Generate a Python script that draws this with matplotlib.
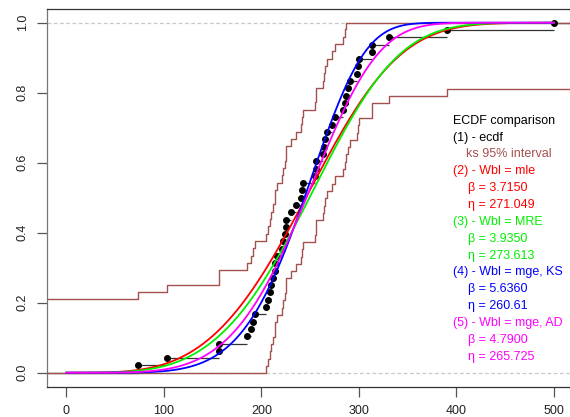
import numpy as np
import matplotlib
matplotlib.use("Agg")
import matplotlib.pyplot as plt

plt.rcParams['font.family'] = ['Liberation Sans', 'DejaVu Sans']

# sorted sample
obs = [73.5, 103.6, 156.6, 156.8, 184.7, 189.8, 191.5, 193.7, 205.2, 206.5,
       208.6, 210.3, 211.7, 213.7, 214.2, 215.5, 221.6, 222.2, 224.7, 225.5,
       225.7, 230.7, 235.0, 241.0, 242.0, 242.8, 254.8, 255.5, 256.5, 263.3,
       264.3, 265.0, 266.8, 272.9, 275.3, 283.8, 285.5, 286.6, 289.0, 290.7,
       297.6, 299.2, 300.2, 313.0, 313.5, 331.0, 389.9, 500.0]
ks_d = 0.189  # half width of the ks band

# weibull fits: label, beta, eta, colour
fit_names = ['mle', 'MRE', 'mge, KS', 'mge, AD']
betas = [3.7150, 3.9350, 5.6360, 4.7900]
etas = [271.049, 273.613, 260.61, 265.725]
beta_txt = ['3.7150', '3.9350', '5.6360', '4.7900']
eta_txt = ['271.049', '273.613', '260.61', '265.725']
cols = ['#ff0000', '#00f000', '#0000ff', '#ff00ff']

band_col = '#a3514f'

x = np.array(obs)
n = len(x)
F = np.arange(1, n + 1) / n

fig = plt.figure(figsize=(5.7, 4.17), dpi=100)
ax = fig.add_axes([47 / 570, 30.3 / 417, 526.3 / 570, 378 / 417])
ax.set_xlim(-20, 520)
ax.set_ylim(-0.04, 1.04)

# grey dashed lines at 0 and 1
for h in (0, 1):
    ax.axhline(h, color='#c8c8c8', lw=0.9, dashes=(3, 2), zorder=1)

# ecdf: horizontal segments + points
xl, xr = -20, 520
ax.hlines(0, xl, x[0], color='#222222', lw=0.9, zorder=2)
ax.hlines(F[:-1], x[:-1], x[1:], color='#333333', lw=0.9, zorder=2)
ax.hlines(1, x[-1], xr, color='#222222', lw=0.9, zorder=2)
ax.plot(x, F, 'o', color='black', ms=4.0, zorder=4)

# ks band (step function)
G = np.minimum(np.arange(1, n + 2), n) / n
up = np.minimum(G + ks_d, 1)
lo = np.maximum(G - ks_d, 0)
bx = np.concatenate([[xl], x, [xr]])
ax.step(bx, np.append(up, up[-1]), where='post', color=band_col, lw=1.0, zorder=3)
ax.step(bx, np.append(lo, lo[-1]), where='post', color=band_col, lw=1.0, zorder=3)

# weibull cdfs
xx = np.linspace(0, 500, 600)
for b, e, c in zip(betas, etas, cols):
    ax.plot(xx, 1 - np.exp(-(xx / e) ** b), color=c, lw=1.3, zorder=5)

# legend text
lines = [('ECDF comparison', 'black', 0), ('(1) - ecdf', 'black', 0),
         ('ks 95% interval', band_col, 1)]
for i, nm in enumerate(fit_names):
    lines.append(('(%d) - Wbl = %s' % (i + 2, nm), cols[i], 0))
    lines.append(('\u03b2 = ' + beta_txt[i], cols[i], 2))
    lines.append(('\u03b7 = ' + eta_txt[i], cols[i], 2))
indent = [396.7, 409.4, 412.0]
for k, (t, c, ind) in enumerate(lines):
    ypx = 120.7 + k * 16.86
    ax.text(indent[ind], (372.7 - ypx) / 350, t, color=c, fontsize=9,
            va='center', ha='left', zorder=6)

ax.set_xticks([0, 100, 200, 300, 400, 500])
ax.set_yticks([0, 0.2, 0.4, 0.6, 0.8, 1.0])
ax.set_yticklabels(['0.0', '0.2', '0.4', '0.6', '0.8', '1.0'], rotation=90, va='center')
ax.tick_params(length=7, width=0.9, color='#555555', labelsize=9, labelcolor='#222222', pad=6)
for s in ax.spines.values():
    s.set_color('#333333')
    s.set_linewidth(0.9)
ax.spines['left'].set_color('#777777')

fig.savefig('out.png', dpi=100)
